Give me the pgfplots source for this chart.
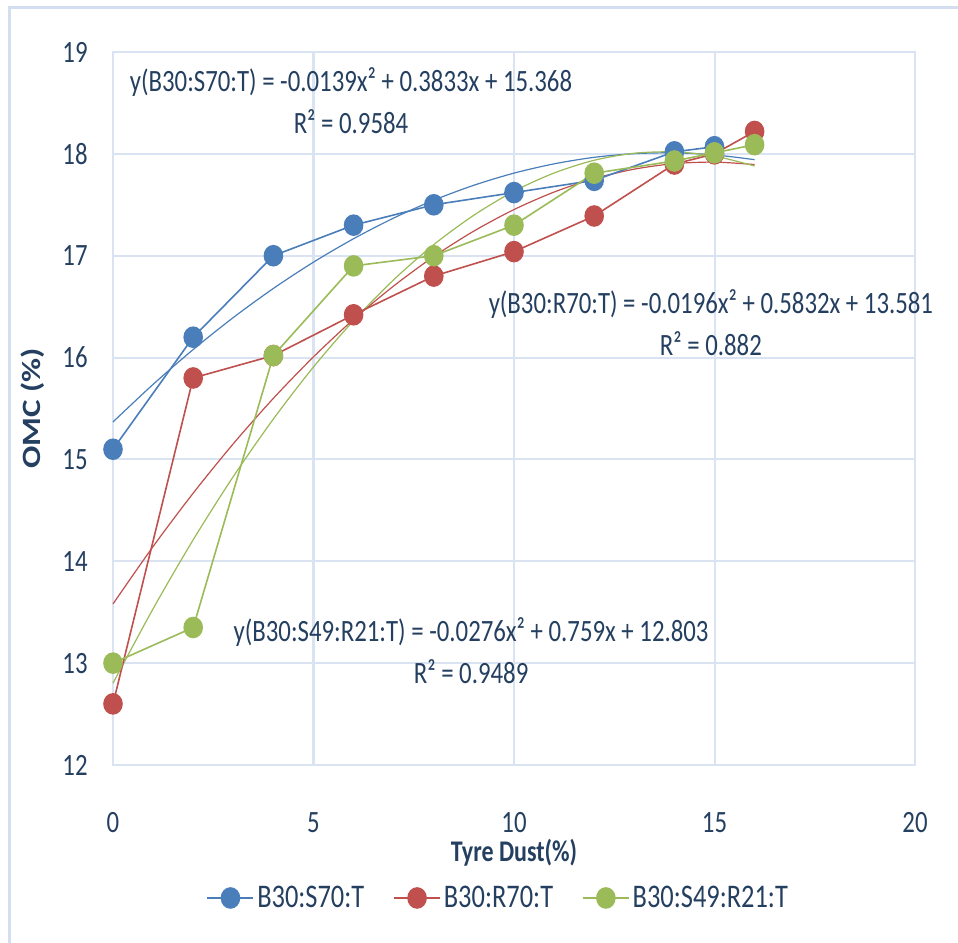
\documentclass[border=0pt]{standalone}
\usepackage{pgfplots}
\pgfplotsset{compat=1.18}
\usepackage{fontspec}
\setmainfont{Carlito}[FakeStretch=0.8]
\newfontfamily\labfont{Carlito}
\definecolor{txt}{HTML}{243F60}
\definecolor{gridc}{HTML}{D9E3F2}
\definecolor{framec}{HTML}{D3DFF0}
\definecolor{sblue}{HTML}{4A7EBB}
\definecolor{sred}{HTML}{C0504D}
\definecolor{sgreen}{HTML}{9BBB59}
\begin{document}
\begin{tikzpicture}
\path[use as bounding box, clip] (-56.5pt,-88.5pt) rectangle (422.5pt,382.5pt);
\fill[white] (-56.5pt,-88.5pt) rectangle (422.5pt,382.5pt);
\draw[framec, line width=1.5pt] (-51.5pt,-100pt) -- (-51.5pt,378.5pt) -- (440pt,378.5pt);
\begin{axis}[
  scale only axis, width=401pt, height=356.5pt,
  xmin=0, xmax=20, ymin=12, ymax=19,
  xtick={0,5,10,15,20}, ytick={12,13,14,15,16,17,18,19},
  grid=major, major grid style={gridc, line width=1pt},
  axis line style={gridc, line width=1pt},
  major tick length=0pt,
  clip=false,
  /pgf/number format/assume math mode=true,
  tick label style={font=\fontsize{15.5}{18}\selectfont, text=txt},
  yticklabel style={anchor=east, inner sep=0pt, xshift=-12.5pt},
  xticklabel style={anchor=base, inner sep=0pt, yshift=-33.5pt},
  xlabel={\textbf{Tyre Dust(\%)}},
  xlabel style={font=\fontsize{15}{18}\selectfont, text=txt, anchor=center, at={(axis description cs:0.5,-0.1234)}},
  ylabel={\scalebox{1}[0.8]{\labfont\bfseries OMC (\%)}},
  ylabel style={font=\fontsize{16.5}{18}\selectfont, text=txt, anchor=center, at={(axis description cs:-0.1,0.5)}, rotate=0},
  legend columns=3,
  legend style={at={(axis description cs:0.481,-0.1865)}, anchor=center, draw=none, fill=none,
    font=\fontsize{16.5}{19}\selectfont, text=txt,
    /tikz/every even column/.append style={column sep=13pt},
    nodes={inner sep=1.5pt}},
  legend image code/.code={\draw[mark repeat=2,mark phase=2,#1] plot coordinates {(0pt,0pt) (11.5pt,0pt) (23pt,0pt)};},
]
% trendlines (from fitted equations)
\addplot[sblue, line width=0.6pt, smooth, forget plot] coordinates {
(0,15.368)(1,15.737)(2,16.079)(3,16.393)(4,16.679)(5,16.937)(6,17.167)(7,17.370)(8,17.545)(9,17.692)(10,17.811)(11,17.902)(12,17.966)(13,18.002)(14,18.010)(15,17.990)(16,17.943)};
\addplot[sred, line width=0.6pt, smooth, forget plot] coordinates {
(0,13.581)(1,14.145)(2,14.669)(3,15.154)(4,15.600)(5,16.007)(6,16.375)(7,16.703)(8,16.992)(9,17.242)(10,17.453)(11,17.625)(12,17.757)(13,17.850)(14,17.904)(15,17.919)(16,17.895)};
\addplot[sgreen, line width=0.6pt, smooth, forget plot] coordinates {
(0,12.803)(1,13.534)(2,14.211)(3,14.832)(4,15.397)(5,15.908)(6,16.363)(7,16.764)(8,17.109)(9,17.398)(10,17.633)(11,17.812)(12,17.937)(13,18.006)(14,18.019)(15,17.978)(16,17.881)};
% data
\addplot[sblue, line width=0.8pt, mark=*, mark size=5pt, mark options={fill=sblue, draw=sblue, xscale=0.9}] coordinates {
(0,15.1)(2,16.2)(4,17.0)(6,17.3)(8,17.5)(10,17.62)(12,17.74)(14,18.02)(15,18.07)};
\addlegendentry{B30:S70:T}
\addplot[sred, line width=0.8pt, mark=*, mark size=5pt, mark options={fill=sred, draw=sred, xscale=0.9}] coordinates {
(0,12.6)(2,15.8)(4,16.02)(6,16.42)(8,16.8)(10,17.04)(12,17.39)(14,17.9)(15,18.0)(16,18.22)};
\addlegendentry{B30:R70:T}
\addplot[sgreen, line width=0.8pt, mark=*, mark size=5pt, mark options={fill=sgreen, draw=sgreen, xscale=0.9}] coordinates {
(0,13.0)(2,13.35)(4,16.02)(6,16.9)(8,17.0)(10,17.3)(12,17.81)(14,17.93)(15,18.01)(16,18.09)};
\addlegendentry{B30:S49:R21:T}
% trendline labels
\node[align=center, text=txt, font=\fontsize{15.5}{21}\selectfont] at (axis cs:5.935,18.52) {y(B30:S70:T) = -0.0139x² + 0.3833x + 15.368\\R² = 0.9584};
\node[align=center, text=txt, font=\fontsize{15.5}{21}\selectfont] at (axis cs:14.91,16.345) {y(B30:R70:T) = -0.0196x² + 0.5832x + 13.581\\R² = 0.882};
\node[align=center, text=txt, font=\fontsize{15.5}{21}\selectfont] at (axis cs:8.93,13.12) {y(B30:S49:R21:T) = -0.0276x² + 0.759x + 12.803\\R² = 0.9489};
\end{axis}
\end{tikzpicture}
\end{document}
